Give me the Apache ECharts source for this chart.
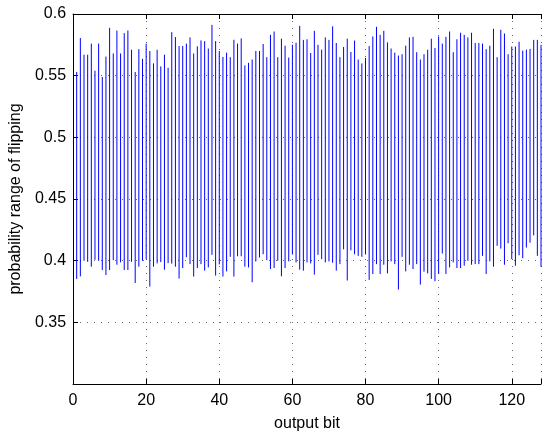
<!DOCTYPE html>
<html>
<head>
<meta charset="utf-8">
<script src="https://cdn.jsdelivr.net/npm/echarts@6/dist/echarts.min.js"></script>
<style>html,body{margin:0;padding:0;background:#fff;}#c{width:544px;height:437px;}</style>
</head>
<body>
<div id="c"></div>
<script>
// Upper end of the flipping probability range per output bit (bits 1..128)
const hiValues = [
0.553,0.5805,0.567,0.567,0.576,0.554,0.576,0.549,0.5655,0.5888,
0.568,0.5866,0.568,0.5845,0.5866,0.571,0.553,0.5715,0.5636,0.576,
0.570,0.560,0.571,0.5575,0.567,0.5564,0.5853,0.5813,0.574,0.574,
0.576,0.581,0.568,0.5738,0.5786,0.578,0.572,0.5912,0.578,0.570,
0.5652,0.5687,0.565,0.5791,0.576,0.5802,0.5583,0.5604,0.5631,0.570,
0.570,0.5757,0.565,0.5831,0.5858,0.565,0.580,0.5743,0.5647,0.5751,
0.5767,0.5904,0.579,0.5795,0.5684,0.5864,0.575,0.5711,0.581,0.579,
0.590,0.5765,0.565,0.5733,0.580,0.5692,0.5785,0.5631,0.5599,0.5644,
0.574,0.5818,0.5896,0.5831,0.5864,0.577,0.572,0.5687,0.5663,0.5674,
0.5743,0.581,0.5815,0.569,0.5631,0.5674,0.5711,0.580,0.5724,0.5818,
0.576,0.5815,0.5858,0.569,0.5795,0.5848,0.5831,0.581,0.5848,0.5765,
0.5765,0.576,0.5715,0.5743,0.588,0.565,0.5872,0.5842,0.5674,0.5736,
0.5736,0.5775,0.5703,0.5711,0.5717,0.579,0.579,0.575
];
// Lower end of the flipping probability range per output bit
const loValues = [
0.3852,0.3873,0.3999,0.3991,0.3951,0.4007,0.3999,0.3924,0.3884,0.3924,
0.4004,0.3967,0.3986,0.3924,0.3924,0.3991,0.3819,0.3951,0.3999,0.401,
0.379,0.3951,0.3978,0.3988,0.3927,0.3980,0.3976,0.3951,0.3855,0.394,
0.4028,0.3972,0.3871,0.394,0.3972,0.3919,0.3945,0.4047,0.3879,0.397,
0.3871,0.3913,0.4031,0.3871,0.4036,0.4036,0.3951,0.3945,0.3825,0.3994,
0.4026,0.4052,0.4004,0.3932,0.394,0.3999,0.3873,0.394,0.3994,0.405,
0.3986,0.3927,0.3919,0.3986,0.3978,0.3887,0.4047,0.4012,0.3986,0.3994,
0.3983,0.3919,0.3972,0.4092,0.3839,0.4084,0.4052,0.4039,0.4031,0.405,
0.3844,0.3892,0.3972,0.3892,0.3967,0.3897,0.3994,0.3972,0.3766,0.4031,
0.3913,0.3967,0.3932,0.3972,0.3806,0.3911,0.3897,0.3852,0.3833,0.3892,
0.4058,0.3892,0.3945,0.3986,0.394,0.394,0.3959,0.3999,0.3967,0.3972,
0.3972,0.4039,0.3892,0.3994,0.3951,0.412,0.4098,0.3967,0.4141,0.4012,
0.3959,0.4044,0.402,0.4106,0.4146,0.4205,0.4039,0.395
];
const bits = hiValues.map((_, i) => i + 1);
const xTicks = [0, 20, 40, 60, 80, 100, 120];
const yTicks = [0.35, 0.4, 0.45, 0.5, 0.55, 0.6];

const data = bits.map((b, i) => [b, loValues[i], hiValues[i]]);
const FONT = 'Liberation Sans, Arial, Helvetica, sans-serif';
const FS = 16;
const chart = echarts.init(document.getElementById('c'), null, {renderer: 'canvas'});
const gridLine = {show: true, lineStyle: {color: '#000', opacity: 0.6, width: 1, type: [1, 6]}};
chart.setOption({
  animation: false,
  grid: {left: 73, top: 14, width: 474, height: 375, containLabel: false},
  xAxis: [{
    type: 'value', min: 0, max: 128, interval: 20, position: 'bottom',
    name: 'output bit', nameLocation: 'middle', nameGap: 32,
    nameTextStyle: {color: '#000', fontSize: FS, fontFamily: FONT},
    axisLine: {show: true, onZero: false, lineStyle: {color: '#000', width: 1}},
    axisTick: {show: true, inside: true, length: 5, lineStyle: {color: '#000'}},
    axisLabel: {color: '#000', fontSize: FS, fontFamily: FONT, margin: 9,
      formatter: v => (xTicks.indexOf(v) >= 0 ? String(v) : '')},
    splitLine: gridLine
  }, {
    type: 'value', min: 0, max: 128, interval: 20, position: 'top',
    axisLine: {show: true, onZero: false, lineStyle: {color: '#000', width: 1}},
    axisTick: {show: true, inside: true, length: 5, lineStyle: {color: '#000'}},
    axisLabel: {show: false}, splitLine: {show: false}
  }],
  yAxis: [{
    type: 'value', min: 0.3, max: 0.6, interval: 0.05,
    name: 'probability range of flipping', nameLocation: 'middle', nameGap: 48,
    nameTextStyle: {color: '#000', fontSize: FS, fontFamily: FONT},
    axisLine: {show: true, onZero: false, lineStyle: {color: '#000', width: 1}},
    axisTick: {show: true, inside: true, length: 5, lineStyle: {color: '#000'}},
    axisLabel: {color: '#000', fontSize: FS, fontFamily: FONT, margin: 7, showMinLabel: true, showMaxLabel: true,
      formatter: v => {
        const r = Math.round(v * 100) / 100;
        return yTicks.some(t => Math.abs(t - r) < 1e-9) ? String(r) : '';
      }},
    splitLine: gridLine
  }],
  series: [{
    type: 'custom',
    xAxisIndex: 0, yAxisIndex: 0,
    data: data,
    renderItem: function (params, api) {
      const x = api.value(0);
      const p1 = api.coord([x, api.value(1)]);
      const p2 = api.coord([x, api.value(2)]);
      return {type: 'line', shape: {x1: p1[0], y1: p1[1], x2: p2[0], y2: p2[1]},
        style: {stroke: '#0000ff', lineWidth: 1}};
    },
    encode: {x: 0, y: [1, 2]}
  }]
});
</script>
</body>
</html>
